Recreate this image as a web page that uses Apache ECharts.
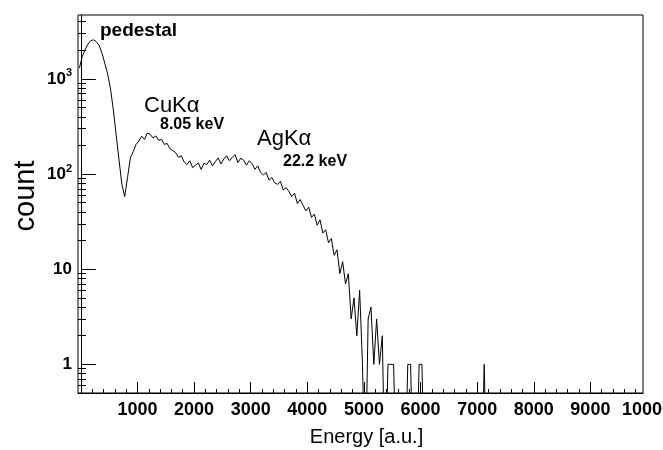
<!DOCTYPE html>
<html>
<head>
<meta charset="utf-8">
<script src="https://cdn.jsdelivr.net/npm/echarts@6/dist/echarts.min.js"></script>
<style>
  html, body { margin: 0; padding: 0; background: #fff; }
  #chart { width: 663px; height: 450px; }
</style>
</head>
<body>
<div id="chart"></div>
<script>
// ---- data (histogram of counts, 50-unit bins, first bin centred at -25) ----
const binWidth = 50;
const firstBinCenter = -25;
const counts = [
  1300, 1720, 2020, 2320, 2520, 2580, 2450, 2250, 1850, 1450,
  1120, 780, 470, 255, 140, 78, 58, 92, 148, 172,
  205, 222, 250, 231, 270, 262, 240, 252, 226, 232,
  205, 210, 184, 176, 168, 150, 156, 134, 126, 138,
  117, 124, 131, 112, 130, 126, 140, 122, 135, 148,
  128, 144, 156, 138, 150, 160, 132, 147, 140, 124,
  138, 128, 112, 122, 104, 98, 104, 86, 92, 81,
  78, 84, 68, 72, 66, 58, 63, 49, 54, 47,
  41, 45, 35, 38, 29, 33, 24, 26, 19, 21,
  14, 16, 9, 12, 7, 9, 3, 5, 2, 6,
  1, 0, 3, 4, 1, 3, 1, 2, 0, 1,
  1, 1, 0, 0, 0, 0, 1, 1, 0, 0,
  1, 1, 0, 0, 0, 0, 0, 0, 0, 0,
  0, 0, 0, 0, 0, 0, 0, 0, 0, 0,
  0, 0, 0, 1, 0, 0, 0, 0, 0, 0,
  0, 0, 0, 0, 0, 0, 0, 0, 0, 0,
  0, 0, 0, 0, 0, 0, 0, 0, 0, 0,
  0, 0, 0, 0, 0, 0, 0, 0, 0, 0,
  0, 0, 0, 0, 0, 0, 0, 0, 0, 0,
  0, 0, 0, 0, 0, 0, 0, 0, 0, 0
];
const xLabelValues = [1000, 2000, 3000, 4000, 5000, 6000, 7000, 8000, 9000, 10000];
const xMajorTicks = [0, 1000, 2000, 3000, 4000, 5000, 6000, 7000, 8000, 9000];
const xMinorTicks = [
  200, 400, 600, 800, 1200, 1400, 1600, 1800, 2200, 2400, 2600, 2800,
  3200, 3400, 3600, 3800, 4200, 4400, 4600, 4800, 5200, 5400, 5600, 5800,
  6200, 6400, 6600, 6800, 7200, 7400, 7600, 7800, 8200, 8400, 8600, 8800,
  9200, 9400, 9600, 9800
];
const yMajorTicks = [1, 10, 100, 1000];
const yMinorTicks = [
  0.6, 0.7, 0.8, 0.9, 2, 3, 4, 5, 6, 7, 8, 9,
  20, 30, 40, 50, 60, 70, 80, 90, 200, 300, 400, 500, 600, 700, 800, 900,
  2000, 3000, 4000
];
const annotations = [
  { text: 'pedestal', x: 100, y: 21, size: 19, weight: 'bold' },
  { text: 'CuKα', x: 144, y: 95, size: 22, weight: 'normal' },
  { text: '8.05 keV', x: 160, y: 117, size: 16, weight: 'bold' },
  { text: 'AgKα', x: 257, y: 128, size: 22, weight: 'normal' },
  { text: '22.2 keV', x: 283, y: 154, size: 16, weight: 'bold' }
];

const FONT = '"Liberation Sans", Arial, Helvetica, sans-serif';
const ZERO_FLOOR = 0.05; // empty bins drop below the axis minimum (clipped)
const seriesData = counts.map((c, i) => [firstBinCenter + i * binWidth, Math.max(c, ZERO_FLOOR)]);

const chart = echarts.init(document.getElementById('chart'), null, { renderer: 'canvas' });
chart.setOption({
  animation: false,
  backgroundColor: '#fff',
  grid: [
    { left: 78, right: 20, top: 15, bottom: 57, show: true, borderColor: '#000', borderWidth: 1, backgroundColor: 'transparent', containLabel: false, outerBoundsMode: 'none' },
    { left: 78, right: 16, top: 15, bottom: 57, show: false, containLabel: false, outerBoundsMode: 'none' }
  ],
  xAxis: [
    {
      type: 'value', gridIndex: 0, min: -50, max: 9930, position: 'bottom',
      axisLine: { show: true, lineStyle: { color: '#000', width: 1 } },
      axisTick: { show: true, inside: true, length: 4, customValues: xMinorTicks, lineStyle: { color: '#000' } },
      axisLabel: { show: false },
      splitLine: { show: false },
      name: 'Energy [a.u.]', nameLocation: 'middle', nameGap: 34,
      nameTextStyle: { fontFamily: FONT, fontSize: 20, color: '#000', padding: [0, 0, 0, 12], verticalAlign: 'top' }
    },
    {
      type: 'value', gridIndex: 1, min: -50, max: 10000, position: 'bottom',
      axisLine: { show: true, lineStyle: { color: 'rgba(0,0,0,0)', width: 1 } },
      axisTick: { show: true, inside: true, length: 11, customValues: xMajorTicks, lineStyle: { color: '#000', width: 1 } },
      axisLabel: {
        show: true, customValues: xLabelValues, margin: 8, color: '#000',
        fontFamily: FONT, fontSize: 18, fontWeight: 'bold', hideOverlap: false,
        alignMinLabel: 'center', alignMaxLabel: 'center',
        formatter: function (v) { return String(v); }
      },
      splitLine: { show: false }
    }
  ],
  yAxis: [
    {
      type: 'log', gridIndex: 0, min: 0.5, max: 4700, position: 'left',
      axisLine: { show: true, lineStyle: { color: '#000', width: 1 } },
      axisTick: { show: true, inside: true, length: 15, customValues: yMajorTicks, lineStyle: { color: '#000' } },
      axisLabel: {
        show: true, customValues: yMajorTicks, margin: 6, color: '#000',
        fontFamily: FONT, fontSize: 17, fontWeight: 'bold',
        formatter: function (v) {
          const e = Math.round(Math.log10(v));
          if (e <= 0) return '1';
          if (e === 1) return '10';
          return '{b|10}{s|' + e + '}';
        },
        rich: {
          b: { fontFamily: FONT, fontSize: 17, fontWeight: 'bold', color: '#000', lineHeight: 22 },
          s: { fontFamily: FONT, fontSize: 11, fontWeight: 'bold', color: '#000', lineHeight: 11, verticalAlign: 'top' }
        }
      },
      splitLine: { show: false }
    },
    {
      type: 'log', gridIndex: 0, min: 0.5, max: 4700, position: 'left',
      axisLine: { show: true, lineStyle: { color: 'rgba(0,0,0,0)' } },
      axisTick: { show: true, inside: true, length: 8, customValues: yMinorTicks, lineStyle: { color: '#000' } },
      axisLabel: { show: false },
      splitLine: { show: false }
    },
    { type: 'value', gridIndex: 1, show: false, min: 0, max: 1 }
  ],
  series: [
    {
      type: 'line', xAxisIndex: 0, yAxisIndex: 0, symbol: 'none',
      clip: true, data: seriesData,
      lineStyle: { color: '#000', width: 1 }
    }
  ],
  graphic: [
    {
      type: 'text', x: 26, y: 196, rotation: Math.PI / 2,
      style: { text: 'count', fill: '#000', font: 'normal 29px ' + FONT, textAlign: 'center', textVerticalAlign: 'middle' }
    }
  ].concat(annotations.map(a => ({
    type: 'text', x: a.x, y: a.y,
    style: { text: a.text, fill: '#000', font: a.weight + ' ' + a.size + 'px ' + FONT, textAlign: 'left', textVerticalAlign: 'top' }
  })))
});
</script>
</body>
</html>
